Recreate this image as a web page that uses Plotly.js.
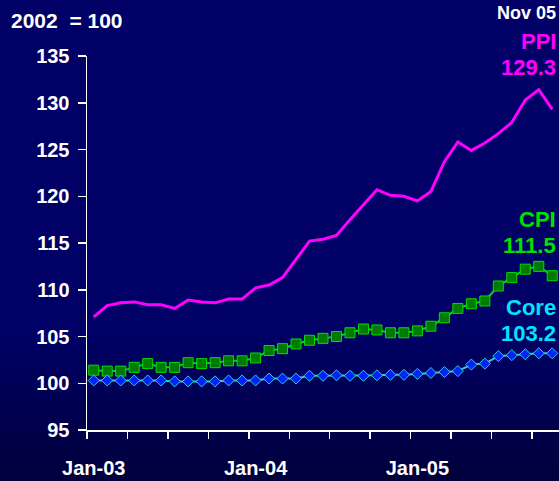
<!DOCTYPE html>
<html>
<head>
<meta charset="utf-8">
<script src="https://cdn.plot.ly/plotly-3.0.1.min.js"></script>
<style>
html,body{margin:0;padding:0;}
body{width:559px;height:481px;background:linear-gradient(#000066 0%,#000066 70%,#00003c 100%);}
#chart{width:559px;height:481px;}
</style>
</head>
<body>
<div id="chart"></div>
<script>
const months = ["Jan-03","Feb-03","Mar-03","Apr-03","May-03","Jun-03","Jul-03","Aug-03","Sep-03","Oct-03","Nov-03","Dec-03",
"Jan-04","Feb-04","Mar-04","Apr-04","May-04","Jun-04","Jul-04","Aug-04","Sep-04","Oct-04","Nov-04","Dec-04",
"Jan-05","Feb-05","Mar-05","Apr-05","May-05","Jun-05","Jul-05","Aug-05","Sep-05","Oct-05","Nov-05"];
const ppi = [107.1,108.3,108.6,108.7,108.4,108.4,108.0,108.9,108.7,108.6,
109.0,109.0,110.2,110.5,111.3,113.3,115.2,115.4,115.8,117.5,
119.1,120.7,120.1,120.0,119.5,120.5,123.7,125.8,124.9,125.7,
126.7,127.9,130.3,131.4,129.3];
const cpi = [101.4,101.3,101.3,101.7,102.1,101.7,101.7,102.2,102.1,102.2,
102.4,102.4,102.7,103.5,103.7,104.2,104.6,104.8,105.0,105.4,
105.8,105.7,105.4,105.4,105.6,106.1,107.0,108.0,108.5,108.8,
110.4,111.3,112.2,112.5,111.5];
const core = [100.3,100.3,100.3,100.3,100.3,100.3,100.2,100.2,100.2,100.2,
100.3,100.3,100.3,100.5,100.5,100.5,100.8,100.8,100.85,100.8,
100.8,100.85,100.9,100.9,101.0,101.1,101.2,101.3,102.0,102.1,
102.9,103.0,103.1,103.2,103.2];
const xLabels = ["Jan-03","Jan-04","Jan-05"];
const yTicks = [95,100,105,110,115,120,125,130,135];

const idx = months.map((m,i)=>i);
const labelIdx = xLabels.map(l=>months.indexOf(l));
const boundaries = [];
for(let i=0;i<=months.length;i+=3) boundaries.push(i-0.5);

const FONT = "Liberation Sans, Arial, sans-serif";
const traces = [
 {x: idx, y: ppi, type:'scatter', mode:'lines', name:'PPI', text: months,
  line:{color:'#ff00ff', width:3}},
 {x: idx, y: cpi, type:'scatter', mode:'lines+markers', name:'CPI', text: months,
  line:{color:'#00dd00', width:2},
  marker:{symbol:'square', size:10, color:'#007a00', line:{color:'#00e000', width:1}}},
 {x: idx, y: core, type:'scatter', mode:'lines+markers', name:'Core', text: months,
  line:{color:'#33cccc', width:2},
  marker:{symbol:'diamond', size:8.5, color:'#0022ff', line:{color:'#33cccc', width:1}}}
];

const last = a => a[a.length-1].toFixed(1);
function ann(text, y, color, size){
  return {xref:'paper', yref:'paper', x:1, y:y, xanchor:'right', yanchor:'middle',
    text:text, showarrow:false, xshift:-1,
    font:{family:FONT, size:size, color:color, weight:'bold'}};
}
const layout = {
  width:559, height:481,
  margin:{l:87, r:0, t:56, b:51, pad:0},
  paper_bgcolor:'rgba(0,0,0,0)', plot_bgcolor:'rgba(0,0,0,0)',
  showlegend:false,
  xaxis:{range:[-0.5, months.length-0.5], tickmode:'array', tickvals:labelIdx, ticktext:xLabels,
    ticks:'', showgrid:false, zeroline:false, showline:true, linecolor:'#ffffff', linewidth:1.5,
    ticklabelstandoff:19,
    tickfont:{family:FONT, size:20, color:'#ffffff', weight:'bold'},
    minor:{tickmode:'array', tickvals:boundaries, ticks:'outside', ticklen:7, tickwidth:1.5, tickcolor:'#ffffff', showgrid:false}},
  yaxis:{range:[95,135], tickmode:'array', tickvals:yTicks, ticks:'outside', ticklen:8, tickwidth:1.5,
    tickcolor:'#ffffff', showgrid:false, zeroline:false, showline:true, linecolor:'#ffffff', linewidth:1.5,
    ticklabelstandoff:4,
    tickfont:{family:FONT, size:20, color:'#ffffff', weight:'bold'}},
  annotations:[
    {xref:'paper', yref:'paper', x:-0.165, y:1.096, xanchor:'left', yanchor:'middle', showarrow:false,
     text:'2002\u00a0\u00a0= 100', font:{family:FONT, size:21, color:'#ffffff', weight:'bold'}},
    ann('Nov 05', 1.116, '#ffffff', 18),
    ann('PPI', 1.040, '#ff00ff', 22),
    ann(last(ppi), 0.969, '#ff00ff', 22),
    ann('CPI', 0.564, '#00e000', 22),
    ann(last(cpi), 0.492, '#00e000', 22),
    ann('Core', 0.3275, '#00e5ff', 22),
    ann(last(core), 0.2567, '#00e5ff', 22)
  ]
};
Plotly.newPlot('chart', traces, layout, {displayModeBar:false, staticPlot:true});
</script>
</body>
</html>
